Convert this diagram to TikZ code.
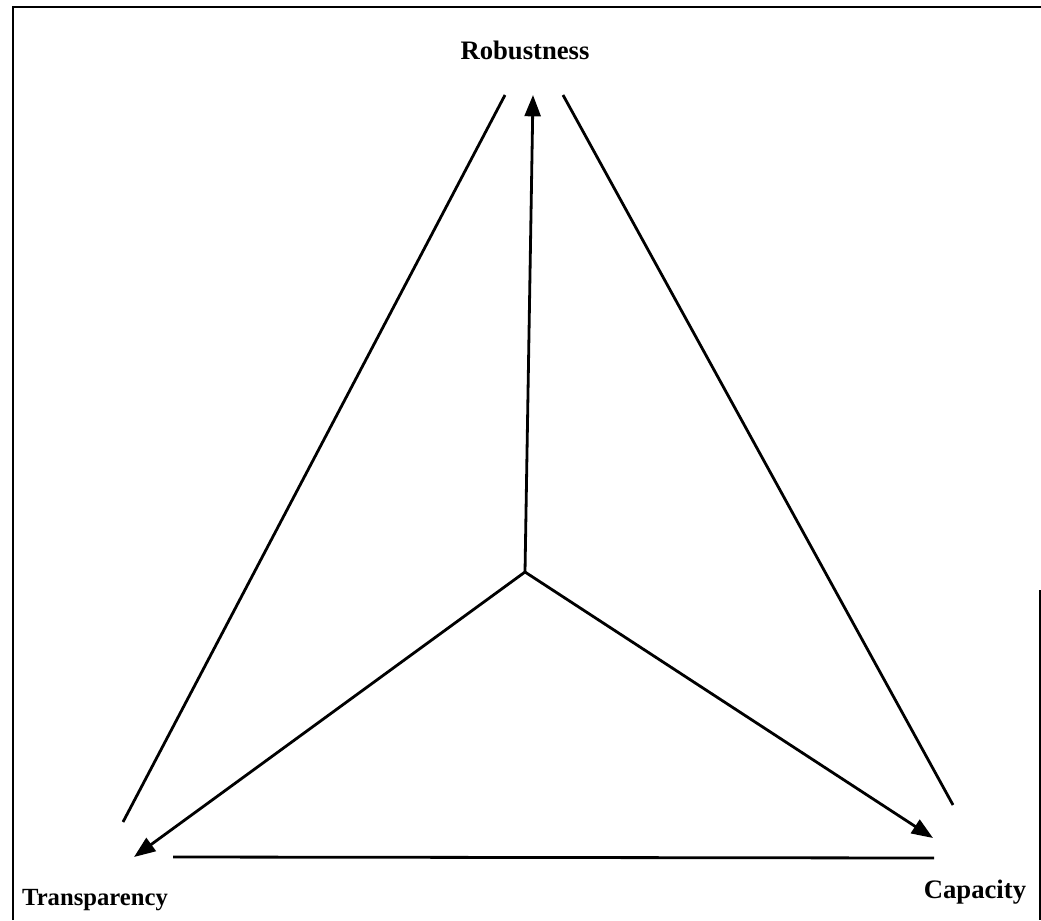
\documentclass[tikz,border=0pt]{standalone}
\usepackage{fontspec}
\setmainfont{Liberation Serif}
\usetikzlibrary{arrows.meta}
\begin{document}
\begin{tikzpicture}[x=0.75pt,y=-0.75pt,
  ln/.style={line width=2.1pt,black},
  arr/.style={ln,-{Triangle[length=16pt,width=12pt]}},
  lbl/.style={font=\bfseries\fontsize{20}{22}\selectfont,inner sep=0pt}]
\useasboundingbox (0,0) rectangle (1041,920);
% frame
\draw[line width=2pt] (13,920) -- (13,7) -- (1041,7);
\draw[line width=1.5pt] (1040,590) -- (1040,920);
% center
\coordinate (c) at (525,572);
\coordinate (rt) at (533,95);
\coordinate (tt) at (134,857);
\coordinate (ct) at (933,838);
\node[lbl] (rob) at (525,50) {Robustness};
\node[lbl,font=\bfseries\fontsize{18.5}{22}\selectfont] (tra) at (95,900) {Transparency};
\node[lbl] (cap) at (975,892) {Capacity};
\coordinate (l1) at (505,95);
\coordinate (l2) at (123,822);
\coordinate (r1) at (563,95);
\coordinate (r2) at (953,805);
\coordinate (b1) at (173,857);
\coordinate (b2) at (934,858);
\draw[ln] (l1) -- (l2);
\draw[ln] (r1) -- (r2);
\draw[ln] (b1) -- (b2);
\draw[arr] (c) -- (rt);
\draw[arr] (c) -- (tt);
\draw[arr] (c) -- (ct);
\end{tikzpicture}
\end{document}
